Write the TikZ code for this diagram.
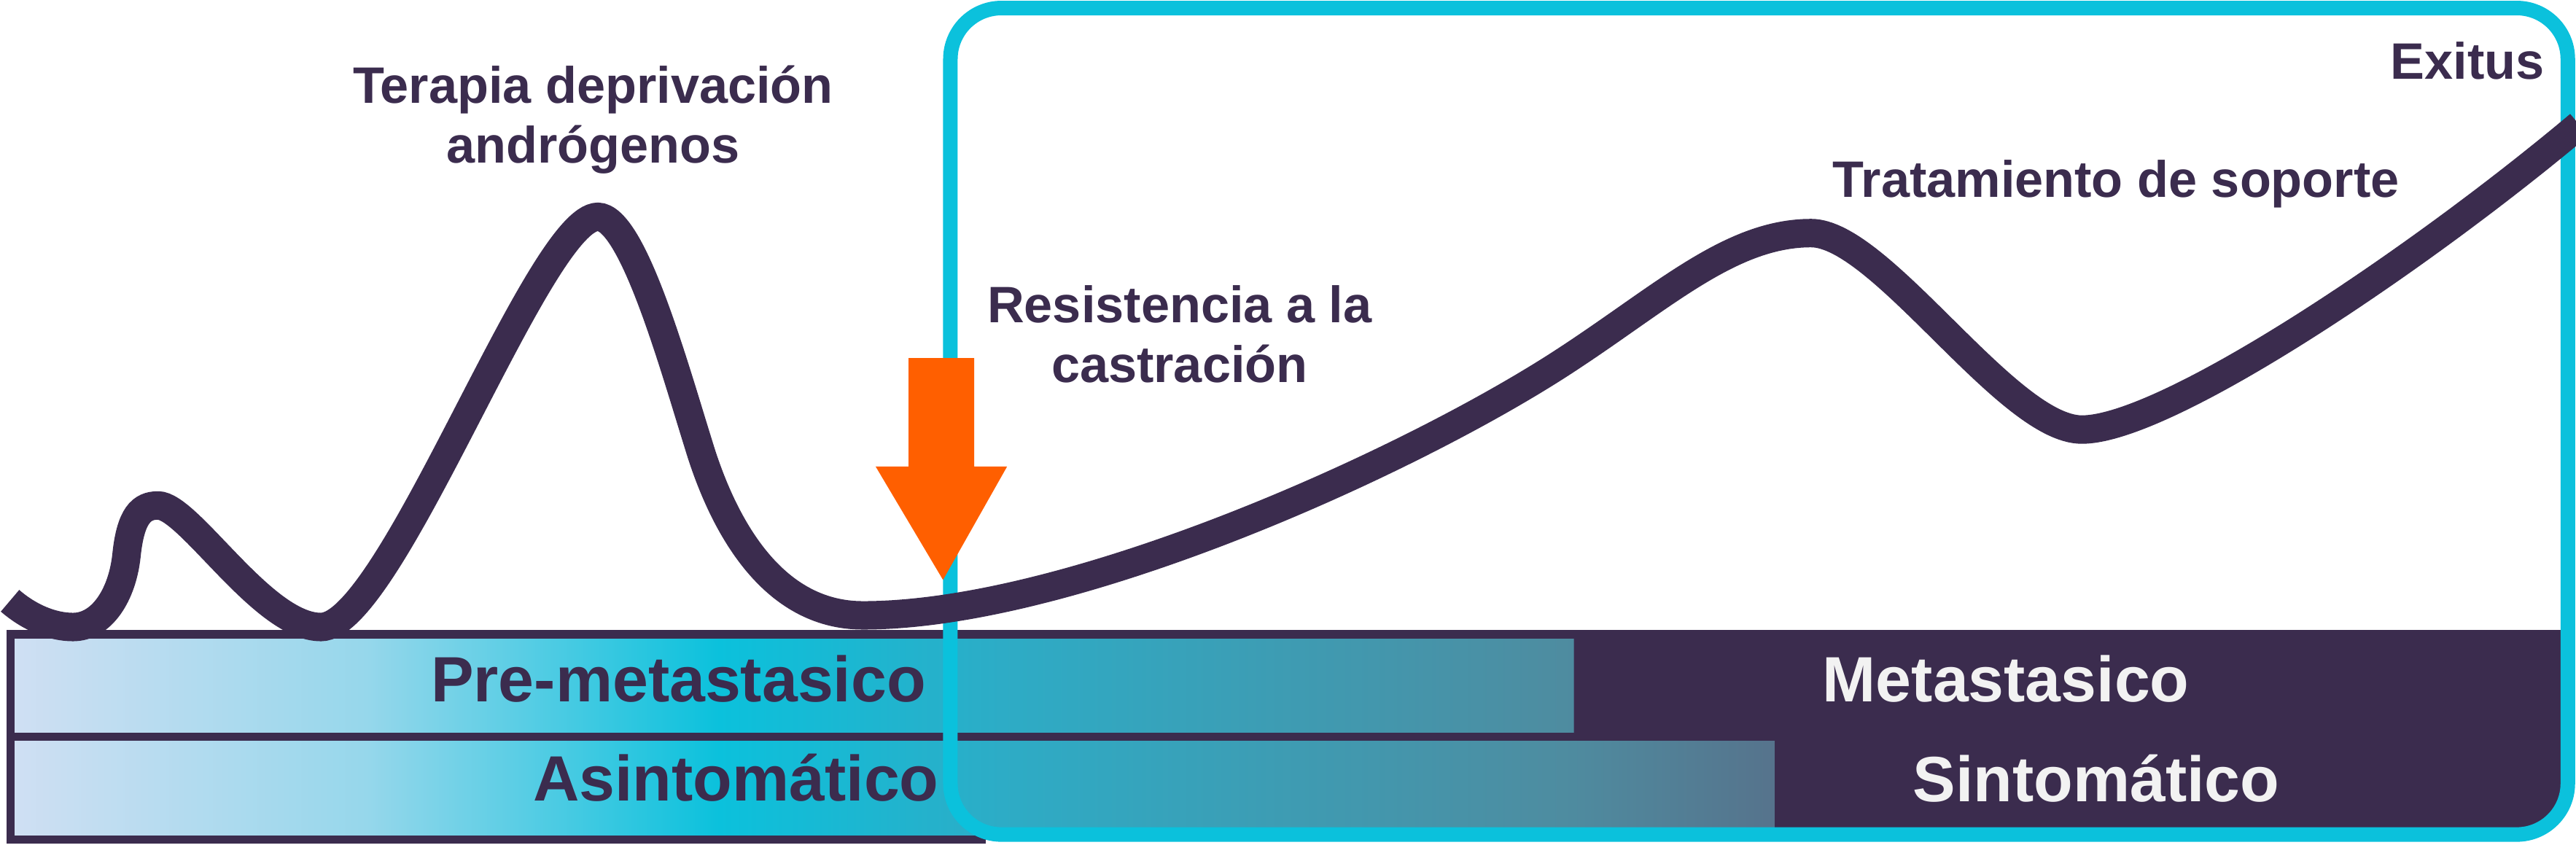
\documentclass[tikz,border=0pt]{standalone}
\usepackage{fontspec}
\setmainfont{Liberation Sans}
\definecolor{CMorado}{HTML}{3B2C4E}
\definecolor{CCian}{HTML}{0BC1DC}
\definecolor{CNaranja}{HTML}{FF5F00}
\definecolor{CBlanco}{HTML}{F2F2F2}
\definecolor{gA}{HTML}{CFDFF3}
\definecolor{gB}{HTML}{96D7EB}
\definecolor{gC}{HTML}{0BC1DC}
\definecolor{gD}{HTML}{2DACC6}
\definecolor{gE}{HTML}{4E8CA0}
\definecolor{gF}{HTML}{56738C}
\pgfdeclarehorizontalshading{barras}{100bp}{color(0bp)=(gA); color(25bp)=(gA); color(35bp)=(gB); color(45bp)=(gC); color(53bp)=(gD); color(69bp)=(gE); color(75bp)=(gF); color(100bp)=(gF)}
\tikzstyle{etiqueta} = [font=\bfseries\fontsize{20}{23.6}\selectfont, text=CMorado, align=center, inner sep=0pt]
\tikzstyle{fase} = [font=\bfseries\fontsize{25}{30}\selectfont, inner sep=0pt]
\tikzstyle{curva} = [line width=0.39cm, draw=CMorado]
\tikzstyle{marco} = [line width=0.2cm, draw=CCian, rounded corners=0.7cm]

\begin{document}
\begin{tikzpicture}[x=0.022532cm, y=-0.022532cm]
\useasboundingbox (0,0) rectangle (1568,514);

% barras de fases
\fill[CMorado] (4,383.5) -- (1558.6,383.5) -- (1558.6,480) .. controls (1558.6,502) and (1552,508) .. (1530,508) -- (600,508) -- (600,513.5) -- (4,513.5) -- cycle;
\shade[shading=barras] (8.9,388.8) rectangle (958,446) (8.9,451) rectangle (1080.5,508.6);

\draw[marco] (578.5,4.9) rectangle (1563,508);

% evolucion
\draw[curva] (6.1,365.7) .. controls (18,376) and (32,381.7) .. (44.4,381.7)
  .. controls (62,381.7) and (74.5,362) .. (77,338)
  .. controls (79.5,314) and (86,307.7) .. (96.2,307.7)
  .. controls (115,307.7) and (160,381.7) .. (195.3,381.7)
  .. controls (238,381.7) and (328,132) .. (363.9,132)
  .. controls (385,132) and (410,222) .. (425,270)
  .. controls (440,320) and (470,374.6) .. (525.2,374.6)
  .. controls (650,374.6) and (850,285) .. (946.8,223.4)
  .. controls (1010,183) and (1052,141.9) .. (1102.4,141.9)
  .. controls (1145,141.9) and (1222,261.5) .. (1267.2,261.5)
  .. controls (1318,261.5) and (1470,160) .. (1570,76);

% flecha
\fill[CNaranja] (553,218) -- (593,218) -- (593,284) -- (613,284) -- (574,353) -- (533,284) -- (553,284) -- cycle;

\node[fase, anchor=base, text=CMorado] (premeta) at (413,427) {Pre-metastasico};
\node[fase, anchor=base, text=CMorado] (asinto) at (448,487.5) {Asintomático};
\node[fase, anchor=base, text=CBlanco] (meta) at (1221,427) {Metastasico};
\node[fase, anchor=base, text=CBlanco] (sinto) at (1276,488) {Sintomático};

\node[etiqueta, anchor=base] (terapia) at (361,99.4) {Terapia deprivación\\andrógenos};
\node[etiqueta, anchor=base] (resist) at (718,233) {Resistencia a la\\castración};
\node[etiqueta, anchor=base] (tratam) at (1288,120) {Tratamiento de soporte};
\node[etiqueta, anchor=base] (exitus) at (1502,48) {Exitus};

\end{tikzpicture}
\end{document}
